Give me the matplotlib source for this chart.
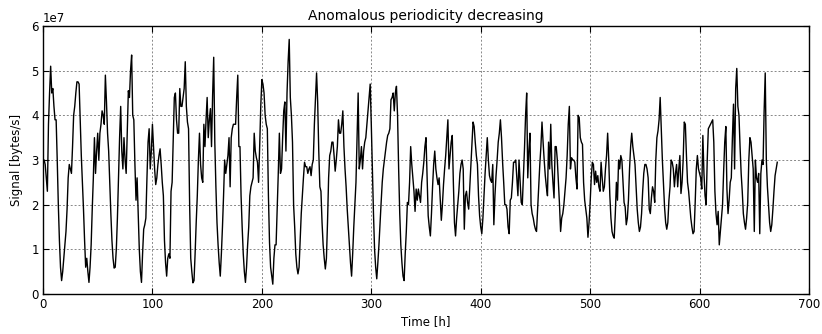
import numpy as np
import matplotlib
matplotlib.use("Agg")
import matplotlib.pyplot as plt

title = "Anomalous periodicity decreasing"
x_label = "Time [h]"
y_label = "Signal [bytes/s]"
x_ticks = [0, 100, 200, 300, 400, 500, 600, 700]
y_ticks = [0, 1e7, 2e7, 3e7, 4e7, 5e7, 6e7]

# hourly signal, in units of 1e7 bytes/s
signal_1e7 = [
    3.0, 3.0, 2.9, 2.6, 2.3, 3.8, 4.5, 5.1, 4.5, 4.6,
    4.2, 3.9, 3.9, 3.0, 2.0, 1.2, 0.6, 0.3, 0.5, 0.8,
    1.1, 1.4, 1.9, 2.6, 2.9, 2.8, 2.7, 3.3, 4.0, 4.2,
    4.5, 4.75, 4.75, 4.7, 3.9, 3.1, 2.5, 1.9, 1.2, 0.6,
    0.8, 0.5, 0.26, 0.6, 1.1, 1.9, 2.6, 3.5, 2.7, 3.2,
    3.6, 3.0, 3.6, 3.8, 4.1, 4.0, 3.8, 4.9, 4.3, 3.6,
    3.2, 2.5, 1.8, 1.2, 0.8, 0.58, 0.6, 1.0, 1.7, 2.6,
    3.5, 4.2, 3.2, 2.8, 3.5, 3.0, 2.7, 3.6, 4.55, 4.4,
    5.0, 5.35, 4.0, 3.9, 2.9, 2.1, 2.6, 1.8, 1.0, 0.5,
    0.26, 0.9, 1.45, 1.55, 1.7, 2.6, 3.4, 3.7, 2.8, 3.2,
    3.8, 3.3, 2.8, 2.45, 2.6, 2.9, 3.1, 3.25, 2.9, 2.5,
    2.2, 1.2, 0.7, 0.4, 0.8, 0.9, 0.8, 2.3, 2.5, 3.5,
    4.4, 4.5, 3.9, 3.6, 3.6, 4.6, 4.2, 4.2, 4.4, 4.6,
    5.2, 4.2, 3.85, 3.7, 2.0, 0.8, 0.5, 0.25, 0.3, 0.9,
    1.6, 2.2, 3.0, 3.6, 2.9, 2.6, 2.5, 3.8, 3.3, 3.9,
    4.4, 3.5, 3.9, 4.15, 3.3, 4.45, 5.3, 3.4, 2.4, 1.6,
    1.1, 0.7, 0.4, 0.9, 1.5, 2.2, 3.0, 2.7, 2.9, 3.1,
    3.5, 2.4, 3.5, 3.7, 3.8, 3.8, 3.8, 4.4, 4.9, 3.3,
    3.3, 2.2, 1.5, 0.9, 0.5, 0.26, 0.6, 1.1, 1.5, 2.2,
    2.4, 2.5, 2.6, 3.6, 3.2, 3.05, 2.95, 2.5, 3.3, 4.2,
    4.8, 4.7, 4.5, 4.0, 3.8, 3.7, 2.2, 1.15, 0.6, 0.4,
    0.22, 0.8, 1.1, 1.1, 1.9, 2.7, 3.6, 2.7, 2.8, 3.5,
    4.1, 4.3, 3.2, 4.5, 5.2, 5.7, 4.4, 4.0, 3.4, 2.0,
    1.5, 0.9, 0.6, 0.45, 0.6, 1.2, 1.8, 2.2, 2.6, 2.95,
    2.85, 2.85, 2.7, 2.8, 2.85, 2.65, 2.9, 3.0, 3.8, 4.4,
    4.95, 4.3, 3.2, 2.4, 2.3, 1.6, 1.1, 0.8, 0.56, 0.8,
    1.6, 2.6, 3.1, 3.2, 3.4, 3.4, 3.1, 2.75, 3.0, 3.3,
    3.9, 3.6, 3.6, 3.8, 4.1, 3.3, 2.8, 2.4, 1.9, 1.5,
    1.1, 0.7, 0.4, 0.9, 1.5, 2.0, 2.5, 3.5, 4.5, 2.8,
    3.0, 3.3, 2.8, 3.2, 3.4, 3.5, 3.8, 4.1, 4.4, 4.7,
    3.8, 2.8, 1.8, 1.0, 0.6, 0.34, 0.7, 1.1, 1.6, 2.05,
    2.5, 2.8, 3.0, 3.2, 3.4, 3.55, 3.6, 3.7, 4.35, 4.4,
    4.5, 4.1, 4.5, 4.65, 4.0, 2.8, 1.8, 1.1, 0.7, 0.4,
    0.3, 0.9, 1.4, 2.05, 2.0, 2.5, 3.3, 2.9, 2.6, 2.3,
    1.85, 2.35, 2.1, 2.35, 2.2, 2.05, 2.5, 2.7, 2.95, 3.3,
    3.5, 2.6, 1.75, 1.5, 1.3, 1.8, 2.4, 2.9, 3.2, 2.8,
    2.6, 2.45, 2.6, 2.1, 1.65, 2.0, 2.45, 2.8, 3.1, 3.5,
    3.9, 2.8, 3.1, 3.4, 3.55, 2.5, 1.6, 1.3, 1.7, 2.0,
    2.3, 2.7, 2.9, 3.0, 2.8, 1.45, 2.2, 2.3, 2.05, 1.9,
    2.4, 2.95, 3.4, 3.85, 3.75, 3.4, 3.1, 2.9, 2.2, 1.75,
    1.5, 1.35, 1.7, 2.2, 2.7, 3.1, 3.5, 3.0, 2.65, 2.55,
    2.5, 2.9, 1.55, 2.2, 2.65, 3.0, 3.4, 3.6, 3.9, 3.5,
    2.95, 2.5, 2.0, 2.0, 1.9, 1.5, 1.35, 2.1, 2.15, 2.5,
    2.95, 2.95, 3.0, 2.6, 2.2, 3.0, 2.5, 2.05, 2.0, 2.6,
    3.25, 4.0, 4.5, 2.6, 3.2, 3.6, 2.0, 1.8, 1.7, 1.55,
    1.45, 1.4, 1.9, 2.35, 2.9, 3.3, 3.85, 3.4, 3.0, 2.65,
    2.4, 2.2, 3.4, 2.8, 3.8, 2.9, 2.5, 2.15, 3.3, 3.3,
    3.0, 2.5, 2.0, 1.4, 1.7, 1.8, 2.0, 2.3, 2.6, 3.1,
    3.8, 4.2, 2.8, 3.05, 3.0, 3.0, 2.95, 2.6, 2.35, 4.0,
    3.95, 3.5, 3.4, 3.35, 2.5, 2.1, 1.9, 1.7, 1.27, 1.6,
    2.05, 2.6, 2.95, 2.9, 2.45, 2.75, 2.5, 2.65, 2.4, 2.3,
    2.95, 2.6, 2.3, 2.4, 2.8, 3.1, 3.6, 3.0, 2.2, 1.7,
    1.4, 1.3, 1.25, 1.8, 2.5, 2.1, 3.0, 2.8, 3.1, 3.0,
    2.5, 2.05, 1.95, 1.55, 1.7, 2.1, 2.8, 3.3, 3.6, 3.3,
    3.1, 2.9, 2.4, 1.9, 1.6, 1.4, 1.5, 1.8, 2.3, 2.7,
    2.9, 2.9, 2.8, 2.6, 1.9, 1.8, 2.15, 2.4, 2.3, 2.05,
    3.0, 3.5, 3.65, 3.9, 4.4, 3.7, 3.0, 2.5, 1.95, 1.6,
    1.45, 1.6, 2.1, 2.4, 3.0, 2.95, 2.8, 2.4, 2.7, 2.9,
    2.4, 2.8, 3.1, 2.25, 2.5, 3.0, 3.85, 3.8, 3.1, 2.5,
    2.3, 2.0, 1.7, 1.5, 1.35, 1.4, 2.05, 2.8, 3.1, 2.8,
    2.7, 2.6, 2.35, 3.55, 2.7, 2.2, 2.0, 3.0, 3.7, 3.75,
    3.8, 3.85, 3.9, 3.4, 2.3, 1.8, 1.55, 1.85, 1.1, 1.4,
    1.7, 2.0, 2.75, 3.4, 3.75, 2.35, 1.8, 2.1, 2.5, 2.6,
    3.5, 4.25, 2.8, 4.6, 5.05, 4.2, 4.0, 3.3, 2.7, 2.3,
    1.8, 1.6, 1.45, 1.7, 2.05, 3.0, 3.5, 3.4, 3.1, 2.8,
    1.4, 3.0, 2.6, 2.5, 2.7, 1.35, 2.7, 3.0, 2.9, 4.1,
    4.95, 3.0, 2.4, 2.0, 1.6, 1.4, 1.55, 1.9, 2.3, 2.65,
    2.8, 2.95,
]

signal = np.array(signal_1e7) * 1e7
hours = np.arange(len(signal))

plt.rcParams['font.family'] = ['DejaVu Sans']
fig = plt.figure(figsize=(8.22, 3.34), dpi=100, facecolor='white')
ax = fig.add_axes([43 / 822, 1 - 294 / 334, 766 / 822, 268 / 334])

ax.plot(hours, signal, color='black', linewidth=1.0)

ax.set_xlim(0, 700)
ax.set_ylim(0, 6e7)
ax.set_xticks(x_ticks)
ax.set_yticks(y_ticks)
ax.grid(True, color='#888888', linestyle=(0, (2, 2)), linewidth=0.7)
ax.tick_params(direction='in', top=True, right=True, labelsize=8.5, length=4, pad=3)
ax.yaxis.get_offset_text().set_fontsize(8.5)
for s in ax.spines.values():
    s.set_linewidth(1.0)

ax.set_title(title, fontsize=10, pad=4)
ax.set_xlabel(x_label, fontsize=8.5, labelpad=3)
ax.set_ylabel(y_label, fontsize=8.5, labelpad=6)

fig.savefig("out.png", dpi=100, facecolor='white')
